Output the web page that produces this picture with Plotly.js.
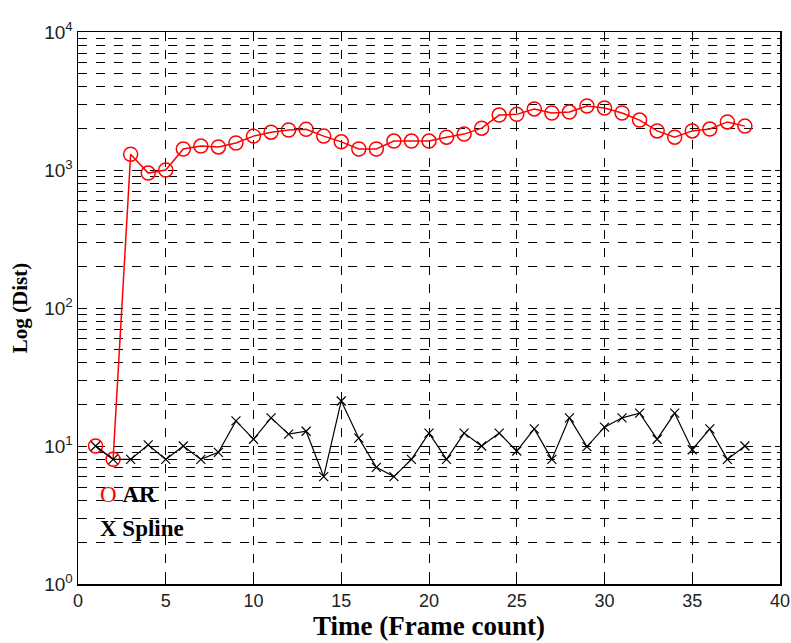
<!DOCTYPE html>
<html>
<head>
<meta charset="utf-8">
<script src="https://cdn.plot.ly/plotly-3.0.1.min.js"></script>
<style>html,body{margin:0;padding:0;background:#fff;}#chart{width:791px;height:643px;}</style>
</head>
<body>
<div id="chart"></div>
<script>
var frames = [1,2,3,4,5,6,7,8,9,10,11,12,13,14,15,16,17,18,19,20,21,22,23,24,25,26,27,28,29,30,31,32,33,34,35,36,37,38];
var arValues = [10,8,1300,950,1000,1420,1490,1470,1570,1760,1880,1950,1970,1760,1600,1420,1420,1620,1620,1620,1730,1820,2010,2500,2530,2770,2590,2630,2910,2810,2590,2300,1920,1730,1920,1980,2230,2080];
var splineValues = [10,8,8,10.2,8,10,8,9,15.2,11.2,16,12.2,12.8,6,21.2,11.4,7,6,8,12.4,8,12.4,10,12.4,9.2,13.3,8,16,9.9,13.7,16,17.3,11.2,17.3,9.4,13.3,8,10];
var xTicks = [0,5,10,15,20,25,30,35,40];
var yTickVals = [1,10,100,1000,10000];
var yTickText = ['10<sup>0</sup>','10<sup>1</sup>','10<sup>2</sup>','10<sup>3</sup>','10<sup>4</sup>'];
var legendLabels = ['AR','Spline'];
var xTitle = 'Time (Frame count)';
var yTitle = 'Log (Dist)';

var serif = '"Liberation Serif", "Times New Roman", serif';
var sans = '"Liberation Sans", Arial, sans-serif';

var traces = [
  {x: frames, y: arValues, type: 'scatter', mode: 'lines+markers', name: legendLabels[0],
   line: {color: '#ff0000', width: 1.5},
   marker: {symbol: 'circle-open', size: 14, color: '#ff0000', line: {width: 1.5, color: '#ff0000'}},
   showlegend: false},
  {x: frames, y: splineValues, type: 'scatter', mode: 'lines+markers', name: legendLabels[1],
   line: {color: '#000000', width: 1.2},
   marker: {symbol: 'x-thin-open', size: 9, color: '#000000', line: {width: 1.2, color: '#000000'}},
   showlegend: false}
];

var layout = {
  width: 791, height: 643,
  margin: {l: 78, r: 11, t: 32, b: 59},
  paper_bgcolor: '#ffffff', plot_bgcolor: '#ffffff',
  showlegend: false,
  xaxis: {
    range: [0, 40], tickmode: 'array', tickvals: xTicks, ticktext: xTicks.map(String),
    showgrid: true, gridcolor: '#000000', griddash: 'dash', gridwidth: 1,
    zeroline: false, showline: true, linecolor: '#000000', linewidth: 1.5, mirror: 'ticks',
    ticks: 'inside', ticklen: 5, tickcolor: '#000000',
    tickfont: {family: sans, size: 18, color: '#222222'},
    title: {text: '<b>' + xTitle + '</b>', font: {family: serif, size: 27, color: '#000000'}, standoff: 3}
  },
  yaxis: {
    type: 'log', range: [0, 4], tickmode: 'array', tickvals: yTickVals, ticktext: yTickText,
    showgrid: true, gridcolor: '#000000', griddash: 'dash', gridwidth: 1,
    zeroline: false, showline: true, linecolor: '#000000', linewidth: 1.5, mirror: 'ticks',
    ticks: 'inside', ticklen: 5, tickcolor: '#000000',
    tickfont: {family: sans, size: 19, color: '#222222'},
    minor: {dtick: 'D1', showgrid: true, gridcolor: '#000000', griddash: 'dash', gridwidth: 1, ticks: 'inside', ticklen: 3, tickcolor: '#000000'},
    title: {text: '<b>' + yTitle + '</b>', font: {family: serif, size: 21, color: '#000000'}, standoff: 11}
  },
  annotations: [
    {xref: 'paper', yref: 'paper', x: 0.029, y: 0.163, xanchor: 'left', yanchor: 'middle', showarrow: false,
     text: '<span style="color:#ff0000">O</span> <b>' + legendLabels[0] + '</b>', font: {family: serif, size: 23, color: '#000000'}},
    {xref: 'paper', yref: 'paper', x: 0.029, y: 0.1, xanchor: 'left', yanchor: 'middle', showarrow: false,
     text: '<b>X ' + legendLabels[1] + '</b>', font: {family: serif, size: 23, color: '#000000'}}
  ]
};

Plotly.newPlot('chart', traces, layout, {displayModeBar: false, staticPlot: true});
</script>
</body>
</html>
